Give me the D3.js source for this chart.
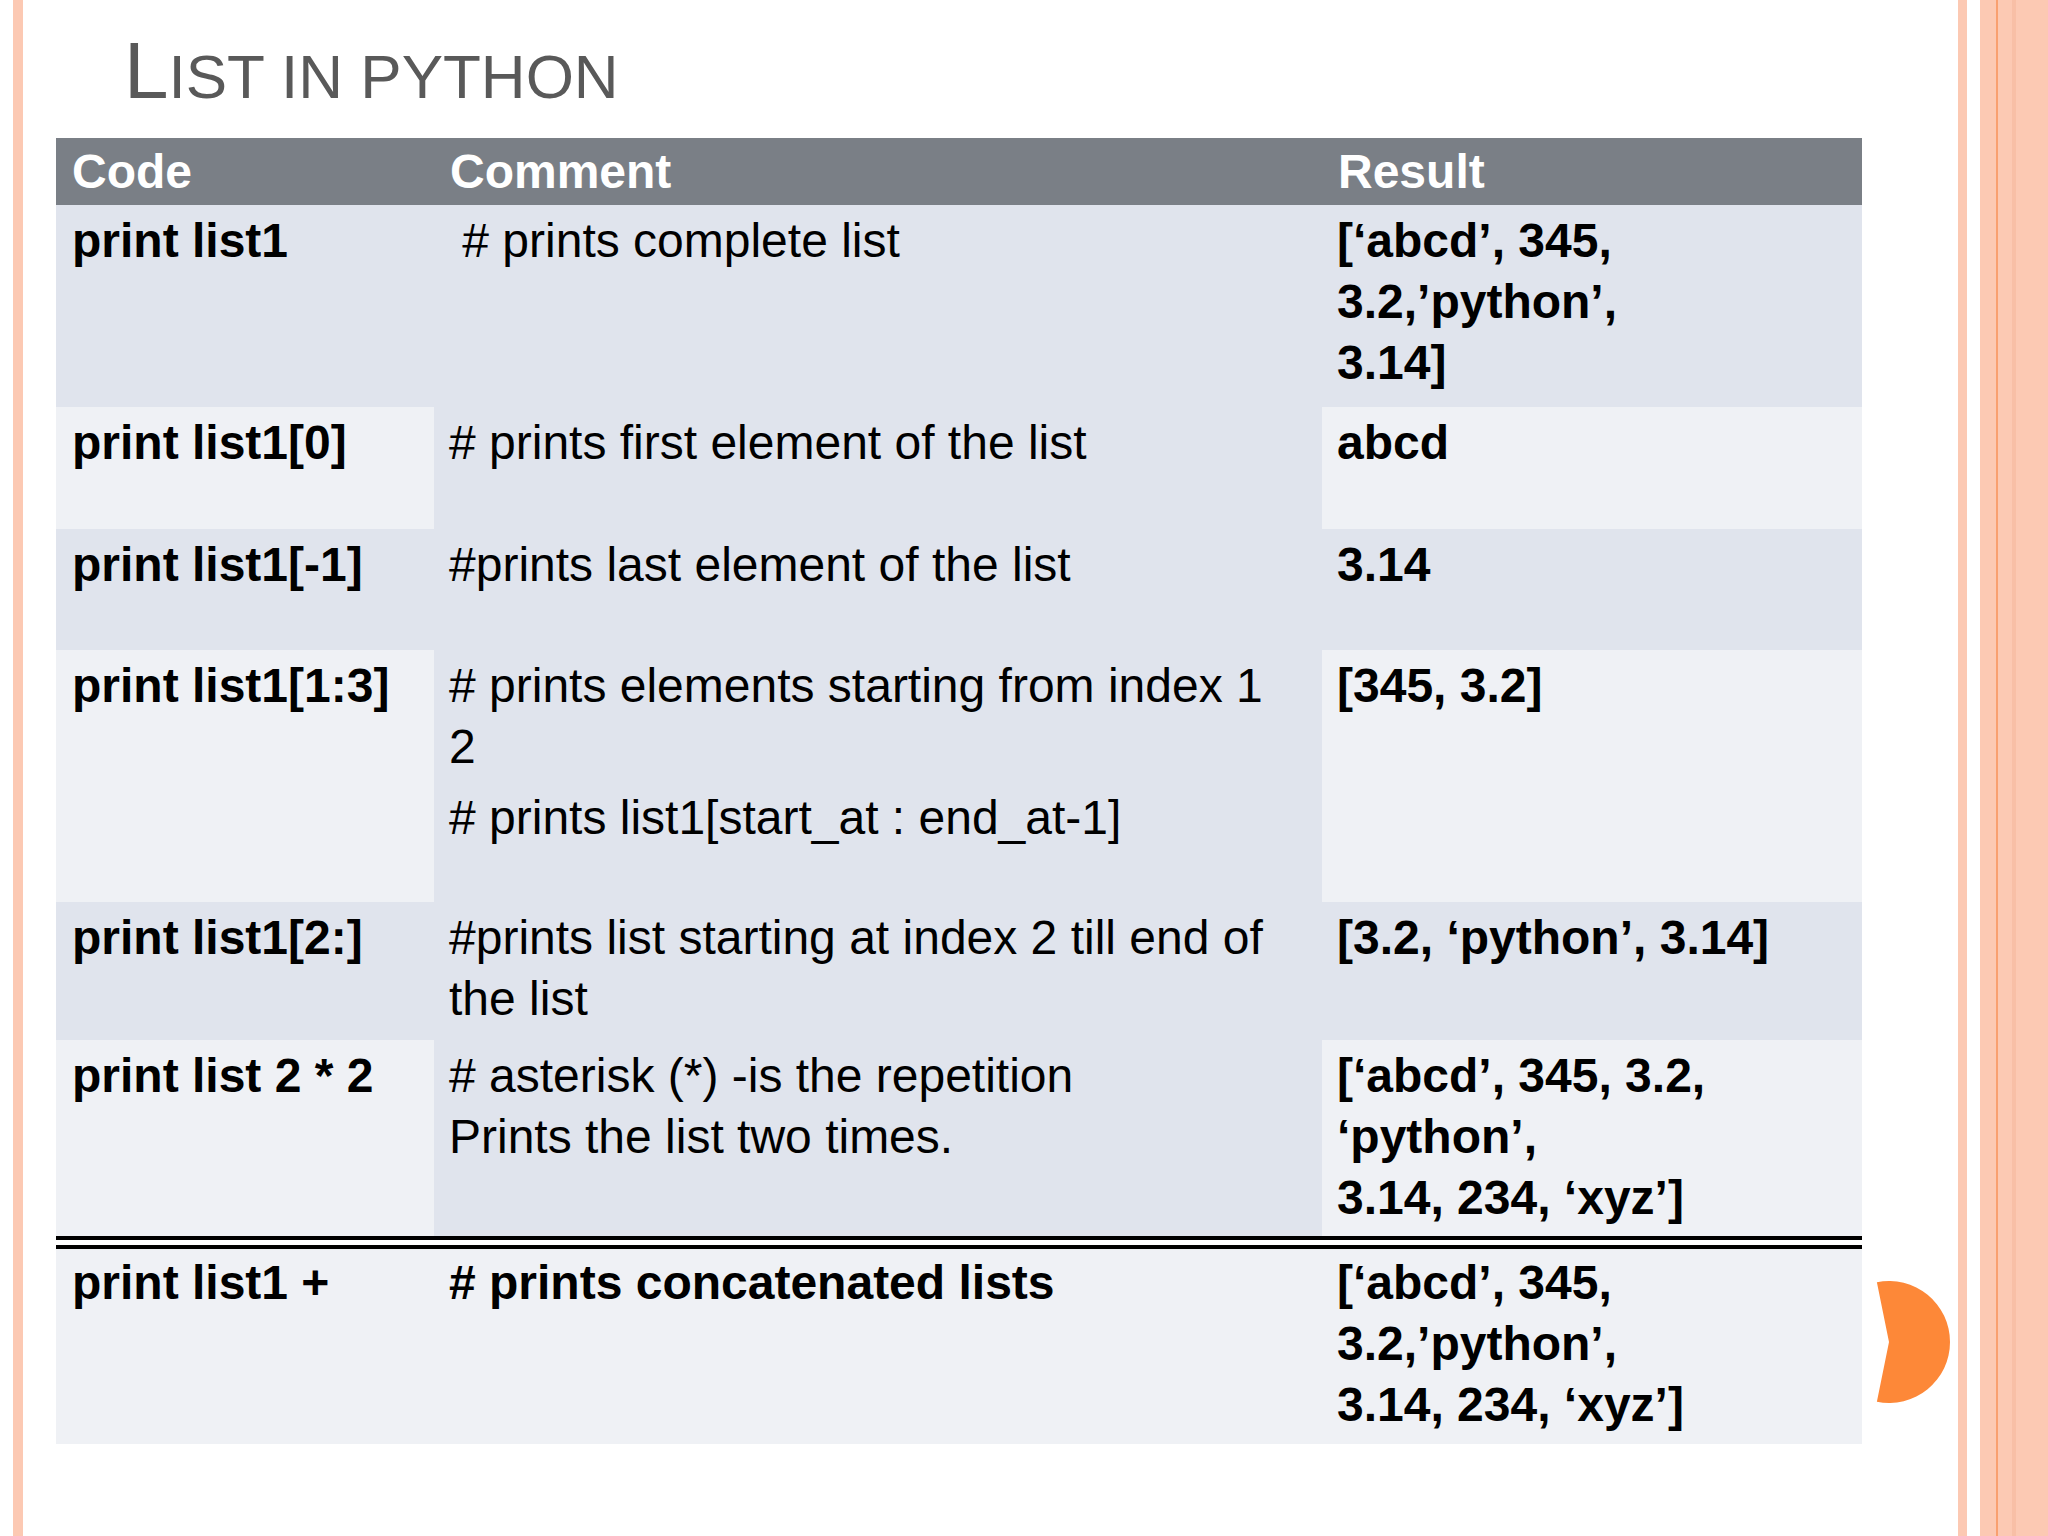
<!DOCTYPE html>
<html><head><meta charset="utf-8">
<script src="https://cdn.jsdelivr.net/npm/d3@7"></script>
<style>body{margin:0;background:#fff}</style></head>
<body><svg id="c" width="2048" height="1536"></svg>
<script>
const headers = ["Code", "Comment", "Result"];
const codes = ["print list1", "print list1[0]", "print list1[-1]", "print list1[1:3]", "print list1[2:]", "print list 2 * 2", "print list1 +"];
const comments = [
  [" # prints complete list"],
  ["# prints first element of the list"],
  ["#prints last element of the list"],
  ["# prints elements starting from index 1", "2", "", "# prints list1[start_at : end_at-1]"],
  ["#prints list starting at index 2 till end of", "the list"],
  ["# asterisk (*) -is the repetition", "Prints the list two times."],
  ["# prints concatenated lists"]
];
const results = [
  ["[‘abcd’, 345,", "3.2,’python’,", "3.14]"],
  ["abcd"],
  ["3.14"],
  ["[345, 3.2]"],
  ["[3.2, ‘python’, 3.14]"],
  ["[‘abcd’, 345, 3.2,", "‘python’,", "3.14, 234, ‘xyz’]"],
  ["[‘abcd’, 345,", "3.2,’python’,", "3.14, 234, ‘xyz’]"]
];
const rowEdges = [205, 407, 529, 650, 902, 1040, 1237, 1444];
const colEdges = [56, 434, 1322, 1862];

const svg = d3.select("#c");
const dark = "#e0e4ed", light = "#eff1f5";
// decorative stripes
svg.append("rect").attr("x",13).attr("y",0).attr("width",10).attr("height",1536).attr("fill","#fcc9b3");
svg.append("rect").attr("x",1958).attr("y",0).attr("width",9).attr("height",1536).attr("fill","#fcc9b3");
svg.append("rect").attr("x",1980).attr("y",0).attr("width",68).attr("height",1536).attr("fill","#fcc9b3");
svg.append("rect").attr("x",1996).attr("y",0).attr("width",2).attr("height",1536).attr("fill","#f9a070");
svg.append("rect").attr("x",2012).attr("y",0).attr("width",4).attr("height",1536).attr("fill","#f8bfa6");

// title
const t = svg.append("text").attr("x",124).attr("y",98).attr("font-family","Liberation Sans, Arial").attr("fill","#595959");
t.append("tspan").attr("font-size",80).text("L");
t.append("tspan").attr("font-size",62).text("IST IN PYTHON");

const font = "Liberation Sans, Arial";
// header
svg.append("rect").attr("x",56).attr("y",138).attr("width",1806).attr("height",67).attr("fill","#7a7f86");
headers.forEach((h,i)=>svg.append("text").attr("x",colEdges[i]+16).attr("y",188).attr("font-family",font)
  .attr("font-weight","bold").attr("font-size",48).attr("fill","#fff").text(h));

codes.forEach((c,r)=>{
  const y0 = rowEdges[r], y1 = rowEdges[r+1];
  const odd = r % 2 === 0;
  for (let k=0;k<3;k++){
    let fill = odd ? dark : (k===1 && r!==6 ? dark : light);
    if (r===6) fill = light;
    svg.append("rect").attr("x",colEdges[k]).attr("y",y0+(r===6?10:0)).attr("width",colEdges[k+1]-colEdges[k])
      .attr("height",y1-y0-(r===6?10:0)).attr("fill",fill);
  }
  const by = y0 + 52 + (r===6?10:0);
  const bold = r===6;
  svg.append("text").attr("x",72).attr("y",by).attr("font-family",font).attr("font-weight","bold")
    .attr("font-size",48).attr("fill","#000").text(c);
  let yy = by;
  comments[r].forEach(l=>{
    if (l==="") { yy += 10; return; }
    svg.append("text").attr("x",449).attr("y",yy).attr("font-family",font).attr("font-weight",bold?"bold":"normal")
      .attr("font-size",48).attr("fill","#000").style("white-space","pre").text(l);
    yy += 61;
  });
  results[r].forEach((l,i)=>svg.append("text").attr("x",1337).attr("y",by+i*61).attr("font-family",font)
    .attr("font-weight","bold").attr("font-size",48).attr("fill","#000").text(l));
});
// double line
svg.append("rect").attr("x",56).attr("y",1236).attr("width",1806).attr("height",4).attr("fill","#000");
svg.append("rect").attr("x",56).attr("y",1245).attr("width",1806).attr("height",4).attr("fill","#000");
// orange circle (half)
svg.append("path").attr("d", d3.arc()({innerRadius:0,outerRadius:61,startAngle:-0.2,endAngle:Math.PI+0.2}))
  .attr("transform","translate(1889,1342)").attr("fill","#fd8838");
svg.append("rect").attr("x",1828).attr("y",1260).attr("width",34).attr("height",184).attr("fill",light);
</script></body></html>
